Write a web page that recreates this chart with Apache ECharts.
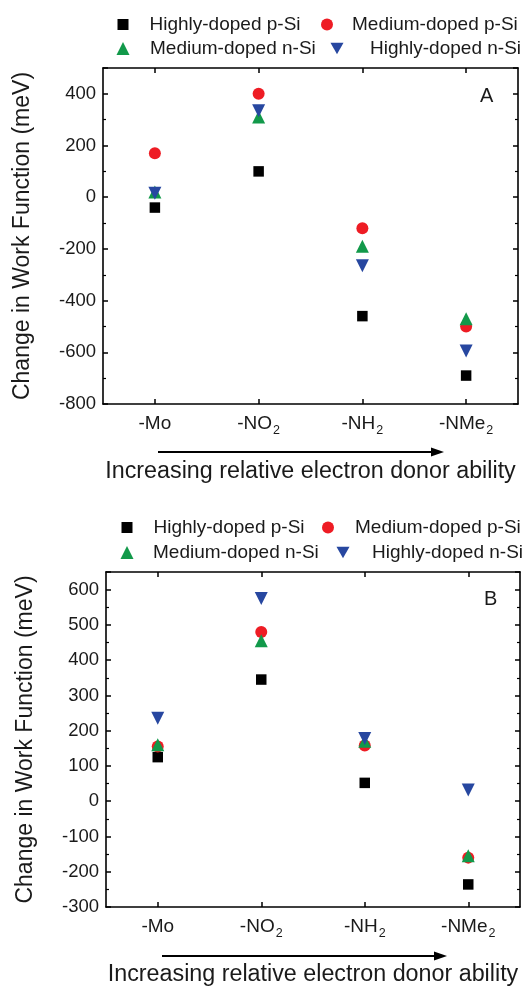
<!DOCTYPE html>
<html><head><meta charset="utf-8">
<script src="https://cdn.jsdelivr.net/npm/echarts@6/dist/echarts.min.js"></script>
<style>html,body{margin:0;padding:0;background:#fff}#c{width:522px;height:990px}</style>
</head><body><div id="c"></div>
<script>
const categories = ['-Mo', '-NO2', '-NH2', '-NMe2'];
const seriesNames = ['Highly-doped p-Si', 'Medium-doped p-Si', 'Medium-doped n-Si', 'Highly-doped n-Si'];
// Panel A
const A_highP = [-40, 100, -460, -690];
const A_medP = [170, 400, -120, -500];
const A_medN = [20, 310, -190, -470];
const A_highN = [15, 335, -265, -595];
// Panel B
const B_highP = [125, 345, 52, -236];
const B_medP = [155, 480, 158, -160];
const B_medN = [160, 455, 170, -155];
const B_highN = [235, 575, 178, 32];
const yTicksA = {min: -800, max: 500, interval: 200};
const yTicksB = {min: -300, max: 650, interval: 100};
const xTitle = 'Increasing relative electron donor ability';
const yTitle = 'Change in Work Function (meV)';

const FONT = '"Liberation Sans", Arial, sans-serif';
const TXT = '#1a1a1a';
const styles = [
  {symbol: 'rect', size: 10.5, color: '#000000', rotate: 0, icon: 'rect'},
  {symbol: 'circle', size: 12, color: '#ee1c24', rotate: 0, icon: 'circle'},
  {symbol: 'triangle', size: 13, color: '#12994a', rotate: 0, icon: 'triangle'},
  {symbol: 'triangle', size: 13, color: '#2747a0', rotate: 180, icon: 'path://M0,0L10,0L5,8.7Z'}
];

function catLabel(v) {
  const m = v.match(/^(.*?)(\d)$/);
  if (m) return '{n|' + m[1] + '}{s|' + m[2] + '}';
  return '{n|' + v + '}';
}

const grids = [
  {left: 103, top: 68, width: 415, height: 336},
  {left: 106, top: 572, width: 414, height: 335}
];
const yCfg = [yTicksA, yTicksB];

const xAxis = [], yAxis = [];
grids.forEach((g, i) => {
  xAxis.push({
    type: 'category', gridIndex: i, data: categories, position: 'bottom',
    boundaryGap: true,
    axisLine: {onZero: false, lineStyle: {color: '#000', width: 1.6}},
    axisTick: {show: true, inside: true, alignWithLabel: true, length: 5, lineStyle: {color: '#000', width: 1.5}},
    axisLabel: {
      margin: 10, formatter: catLabel,
      rich: {
        n: {fontFamily: FONT, fontSize: 19, color: TXT, lineHeight: 20},
        s: {fontFamily: FONT, fontSize: 12.5, color: TXT, padding: [13, 0, 0, 1], lineHeight: 20}
      }
    },
    name: xTitle, nameLocation: 'middle', nameGap: 56,
    nameTextStyle: {fontFamily: FONT, fontSize: 23.3, color: TXT}
  });
  xAxis.push({
    type: 'category', gridIndex: i, data: categories, position: 'top',
    boundaryGap: true,
    axisLine: {onZero: false, lineStyle: {color: '#000', width: 1.6}},
    axisTick: {show: true, inside: true, alignWithLabel: true, length: 5, lineStyle: {color: '#000', width: 1.5}},
    axisLabel: {show: false}
  });
  const c = yCfg[i];
  yAxis.push({
    type: 'value', gridIndex: i, position: 'left', min: c.min, max: c.max, interval: c.interval,
    splitLine: {show: false},
    axisLine: {show: true, onZero: false, lineStyle: {color: '#000', width: 1.6}},
    axisTick: {show: true, inside: true, length: 5, lineStyle: {color: '#000', width: 1.5}},
    minorTick: {show: true, splitNumber: 2, length: 3, lineStyle: {color: '#000', width: 1.2}},
    axisLabel: {showMaxLabel: false, margin: 7, fontFamily: FONT, fontSize: 18.5, color: TXT},
    name: yTitle, nameLocation: 'middle', nameGap: 69, nameRotate: 90,
    nameTextStyle: {fontFamily: FONT, fontSize: 23, color: TXT}
  });
  yAxis.push({
    type: 'value', gridIndex: i, position: 'right', min: c.min, max: c.max, interval: c.interval,
    splitLine: {show: false},
    axisLine: {show: true, onZero: false, lineStyle: {color: '#000', width: 1.6}},
    axisTick: {show: true, inside: true, length: 5, lineStyle: {color: '#000', width: 1.5}},
    minorTick: {show: true, splitNumber: 2, length: 3, lineStyle: {color: '#000', width: 1.2}},
    axisLabel: {show: false}
  });
});

const dataSets = [[A_highP, A_medP, A_medN, A_highN], [B_highP, B_medP, B_medN, B_highN]];
const series = [];
dataSets.forEach((sets, i) => {
  sets.forEach((d, k) => {
    const s = styles[k];
    series.push({
      name: seriesNames[k], type: 'scatter', xAxisIndex: i * 2, yAxisIndex: i * 2,
      data: d, symbol: s.symbol, symbolSize: s.size, symbolRotate: s.rotate,
      itemStyle: {color: s.color, opacity: 1}, z: 2 + k, silent: true
    });
  });
});

function legend(top, left, k, pad) {
  const s = styles[k];
  const w = k === 0 ? 11 : (k === 1 ? 12 : 13);
  return {
    top: top, left: left - 5, orient: 'horizontal',
    data: [{name: seriesNames[k], icon: s.icon}],
    itemWidth: w, itemHeight: w, selectedMode: false,
    textStyle: {fontFamily: FONT, fontSize: 19, color: TXT, padding: [0, 0, 0, pad]}
  };
}

const option = {
  animation: false,
  backgroundColor: '#fff',
  grid: grids,
  xAxis: xAxis, yAxis: yAxis, series: series,
  legend: [
    legend(10, 117.5, 0, 16),
    legend(10, 321, 1, 14),
    legend(34, 116.5, 2, 15.5),
    legend(34, 330.5, 3, 21.5),
    legend(513, 121.5, 0, 16),
    legend(513, 322, 1, 16),
    legend(538, 120.5, 2, 14.5),
    legend(538, 336.5, 3, 17.5)
  ],
  graphic: [
    {type: 'text', left: 480, top: 86, style: {text: 'A', font: '20px ' + FONT, fill: TXT}},
    {type: 'text', left: 484, top: 589, style: {text: 'B', font: '20px ' + FONT, fill: TXT}},
    {type: 'line', shape: {x1: 158, y1: 452, x2: 433, y2: 452}, style: {stroke: '#000', lineWidth: 2}},
    {type: 'polygon', shape: {points: [[444, 452], [431, 447.5], [431, 456.5]]}, style: {fill: '#000'}},
    {type: 'line', shape: {x1: 162, y1: 956, x2: 436, y2: 956}, style: {stroke: '#000', lineWidth: 2}},
    {type: 'polygon', shape: {points: [[447, 956], [434, 951.5], [434, 960.5]]}, style: {fill: '#000'}}
  ]
};
const chart = echarts.init(document.getElementById('c'), null, {renderer: 'canvas'});
chart.setOption(option);
</script></body></html>
